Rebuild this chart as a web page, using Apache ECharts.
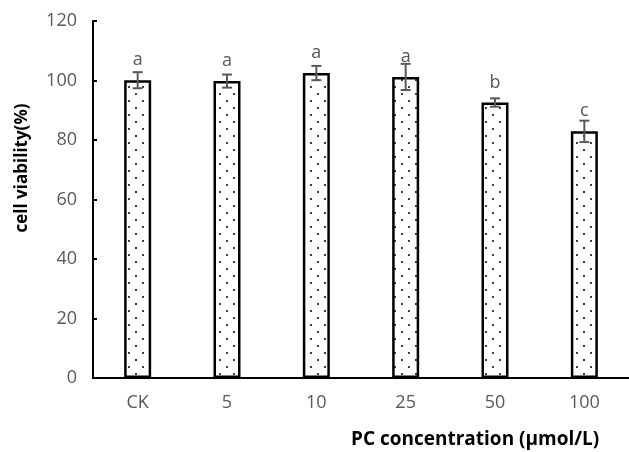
<!DOCTYPE html>
<html>
<head>
<meta charset="utf-8">
<script src="https://cdn.jsdelivr.net/npm/echarts@6/dist/echarts.min.js"></script>
<style>
html,body{margin:0;padding:0;background:#fff;}
#chart{width:629px;height:452px;}
</style>
</head>
<body>
<div id="chart"></div>
<script>
var categories = ['CK', '5', '10', '25', '50', '100'];
var viability = [100.1, 99.8, 102.5, 101.2, 92.6, 82.9];
var errors = [2.7, 2.2, 2.4, 4.4, 1.4, 3.6];
var letters = ['a', 'a', 'a', 'a', 'b', 'c'];
var yTicks = [0, 20, 40, 60, 80, 100, 120];
var xTitle = 'PC concentration (μmol/L)';
var yTitle = 'cell viability(%)';

// dotted fill pattern
var pc = document.createElement('canvas');
pc.width = 14; pc.height = 14;
var pctx = pc.getContext('2d');
pctx.fillStyle = '#fff';
pctx.fillRect(0, 0, 14, 14);
pctx.fillStyle = '#000';
pctx.beginPath(); pctx.arc(3, 3, 1.0, 0, Math.PI * 2); pctx.fill();
pctx.beginPath(); pctx.arc(10, 10, 1.0, 0, Math.PI * 2); pctx.fill();

var chart = echarts.init(document.getElementById('chart'));
var gray = '#595959';
var font = 'Open Sans';

chart.setOption({
  animation: false,
  backgroundColor: '#fff',
  title: {
    text: xTitle,
    left: 351,
    top: 430,
    textStyle: {fontFamily: font, fontSize: 19, fontWeight: 'bold', color: '#000'},
    padding: 0
  },
  graphic: [{
    type: 'text',
    x: 22,
    y: 168,
    rotation: Math.PI / 2,
    style: {
      text: yTitle,
      fontFamily: font,
      fontSize: 17,
      fontWeight: 'bold',
      fill: '#000',
      textAlign: 'center',
      textVerticalAlign: 'middle'
    }
  }],
  grid: {left: 93, top: 21, width: 547, height: 357},
  xAxis: {
    type: 'category',
    data: categories,
    axisLine: {lineStyle: {color: '#000', width: 2}},
    axisTick: {show: false},
    axisLabel: {color: gray, fontFamily: font, fontSize: 18, margin: 16}
  },
  yAxis: {
    type: 'value',
    min: yTicks[0],
    max: yTicks[yTicks.length - 1],
    interval: 20,
    axisLine: {show: true, lineStyle: {color: '#000', width: 2}},
    axisTick: {show: true, inside: true, length: 4, lineStyle: {color: '#000', width: 2}},
    splitLine: {show: false},
    axisLabel: {color: gray, fontFamily: font, fontSize: 18, margin: 16}
  },
  series: [
    {
      type: 'bar',
      data: viability,
      barWidth: 27,
      itemStyle: {
        color: {image: pc, repeat: 'repeat'},
        borderColor: '#000',
        borderWidth: 2.5
      },
      label: {
        show: true,
        position: 'top',
        distance: 11,
        formatter: function (p) { return letters[p.dataIndex]; },
        color: gray,
        fontFamily: font,
        fontSize: 18
      },
      z: 2
    },
    {
      type: 'custom',
      data: viability.map(function (v, i) { return [i, v - errors[i], v + errors[i]]; }),
      encode: {x: 0, y: [1, 2]},
      z: 5,
      renderItem: function (params, api) {
        var x = api.value(0);
        var lo = api.coord([x, api.value(1)]);
        var hi = api.coord([x, api.value(2)]);
        var hw = 5;
        var st = {stroke: gray, lineWidth: 2};
        return {
          type: 'group',
          children: [
            {type: 'line', shape: {x1: lo[0], y1: lo[1], x2: hi[0], y2: hi[1]}, style: st},
            {type: 'line', shape: {x1: lo[0] - hw, y1: lo[1], x2: lo[0] + hw, y2: lo[1]}, style: st},
            {type: 'line', shape: {x1: hi[0] - hw, y1: hi[1], x2: hi[0] + hw, y2: hi[1]}, style: st}
          ]
        };
      }
    }
  ]
});
</script>
</body>
</html>
